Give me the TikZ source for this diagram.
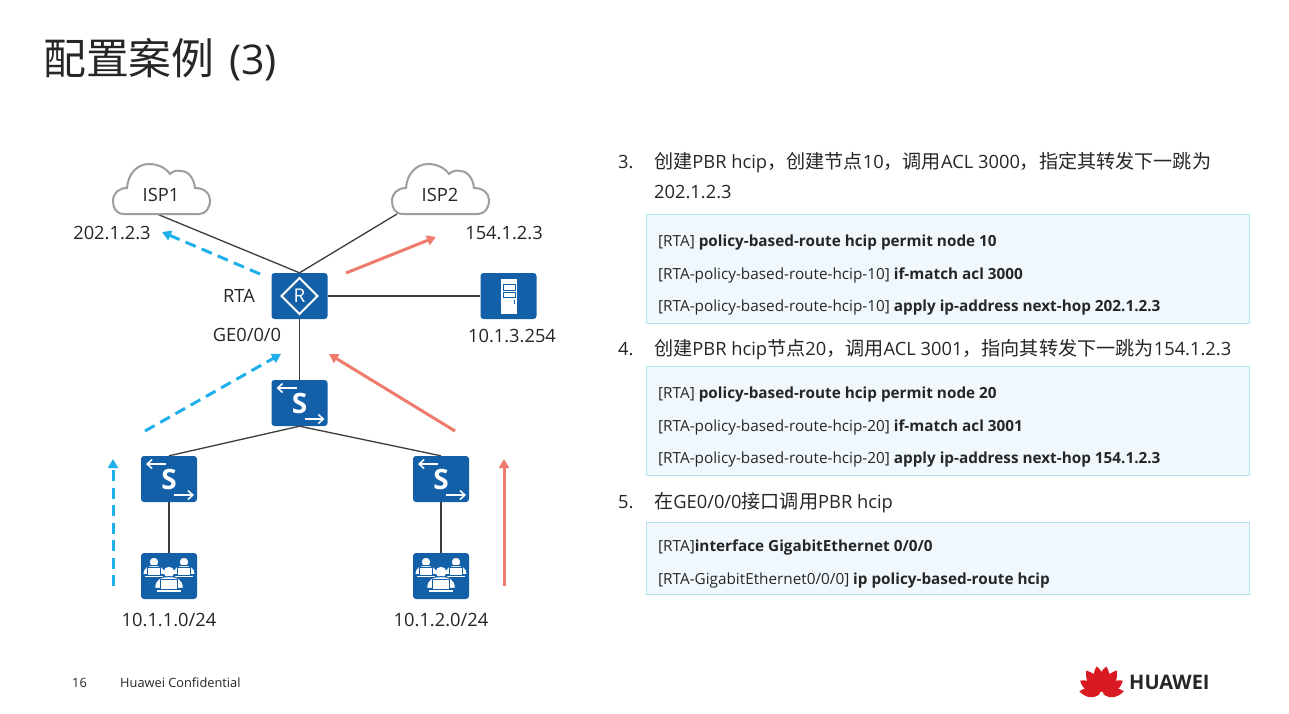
\documentclass[tikz,border=0pt]{standalone}
\usepackage{fontspec}
\setmainfont{Open Sans}
\newfontfamily\cjk[Scale=1.045]{Noto Sans CJK SC}
\usetikzlibrary{arrows.meta, positioning}
\newcommand{\zh}[1]{{\cjk #1}}
\definecolor{devblue}{HTML}{1460A8}
\definecolor{flowblue}{HTML}{1FB0EC}
\definecolor{flowred}{HTML}{EE7B6C}
\definecolor{codefill}{HTML}{F0F8FD}
\definecolor{codeline}{HTML}{B3E2F3}
\definecolor{textgrey}{HTML}{262626}
\definecolor{logored}{HTML}{DA1A22}
\tikzset{
  device/.style={draw=none, fill=devblue, rounded corners=3pt, minimum width=56pt, minimum height=46pt, inner sep=0pt},
  link/.style={draw=textgrey!90, line width=1.3pt},
  flowb/.style={draw=flowblue, line width=3pt, dash pattern=on 11pt off 6.5pt, -{Triangle[length=9pt,width=10pt]}},
  flowr/.style={draw=flowred, line width=3pt, -{Triangle[length=9pt,width=10pt]}},
  lab/.style={text=textgrey, font=\fontsize{18.3pt}{20pt}\selectfont, inner sep=0pt},
  item/.style={text=textgrey, font=\fontsize{18.3pt}{20pt}\selectfont, inner sep=0pt, anchor=base west},
  codeline/.style={text=textgrey, font=\fontsize{15.3pt}{18pt}\selectfont, inner sep=0pt, anchor=base west},
  codebox/.style={draw=codeline, fill=codefill, line width=1pt},
  foot/.style={text=textgrey, font=\fontsize{12.8pt}{15pt}\selectfont, inner sep=0pt, anchor=base west},
  wline/.style={draw=white, line width=1.5pt},
  barb/.style={wline, -{Straight Barb[length=5pt,width=9pt]}},
  cloudpic/.pic={
    \draw[draw=black!38, fill=white, line width=2pt] (-37,25) .. controls (-45,25) and (-48,19) .. (-48,12)
      .. controls (-48,4) and (-42,-1) .. (-34,-1) .. controls (-33,-15) and (-24,-25) .. (-12,-25)
      .. controls (-3,-25) and (5,-21) .. (9,-15) .. controls (12,-18) and (16,-19) .. (20,-18)
      .. controls (28,-18) and (33,-10) .. (34,-1) .. controls (43,-1) and (49,4) .. (49,11)
      .. controls (49,19) and (45,25) .. (38,25) -- cycle;
  },
  routerpic/.pic={
    \draw[wline, line width=2pt] (-18,0) -- (0,-18) -- (18,0) -- (0,18) -- cycle;
    \node[text=white, inner sep=0pt, font=\fontsize{19pt}{19pt}\selectfont] (-r) at (0,0) {R};
  },
  switchpic/.pic={
    \draw[barb] (-3,-15) -- (-23,-15);
    \draw[barb] (5,16) -- (25,16);
    \node[text=white, inner sep=0pt, font=\fontsize{28pt}{28pt}\bfseries\selectfont] (-s) at (0,0) {S};
  },
  serverpic/.pic={
    \fill[white] (-8,-17) rectangle (8,18);
    \draw[devblue, line width=1pt] (-5,-12) rectangle (7,-6);
    \draw[devblue, line width=1pt] (-5,-4) rectangle (7,1);
    \fill[devblue] (5,4) rectangle (6.5,8);
  },
  personpic/.pic={
    \draw[white, fill=white, line width=.3pt] (0,-4.5) circle (4);
    \draw[devblue, fill=white, line width=1pt] (-11,8) .. controls (-11,0) and (-6,-1) .. (0,-1)
      .. controls (6,-1) and (11,0) .. (11,8) -- cycle;
    \draw[devblue, fill=white, line width=1pt] (-6.5,1) rectangle (6.5,8.5);
    \draw[white, line width=1.2pt] (-9,10) -- (9,10);
  },
  petal/.pic={
    \fill[logored] (0,-2) .. controls (-8,-9) and (-7,-20) .. (0,-28) .. controls (7,-20) and (8,-9) .. (0,-2) -- cycle;
  }
}

\begin{document}
\begin{tikzpicture}[x=1pt, y=-1pt]
  \useasboundingbox (0,0) rectangle (1289,713);
  \fill[white] (0,0) rectangle (1289,713);

  \node[anchor=base west, inner sep=0pt, text=textgrey, font=\fontsize{41pt}{46pt}\selectfont] (title) at (43,74) {\zh{配置案例}\hspace{4pt} (3)};

  % devices
  \node[device] (rta) at (299.5,296) {};
  \node[device] (server) at (508.5,296) {};
  \node[device] (swtop) at (299.5,403) {};
  \node[device] (swa) at (169,479) {};
  \node[device] (swb) at (441,479) {};
  \node[device] (pca) at (169,576) {};
  \node[device] (pcb) at (441,576) {};
  \coordinate (isp1end) at (157,214);
  \coordinate (isp2end) at (397,214);

  \draw[link] (rta.north) -- (isp1end);
  \draw[link] (rta.north) -- (isp2end);
  \draw[link] (rta.east) -- (server.west);
  \draw[link] (rta.south) -- (swtop.north);
  \draw[link] (swtop.south) -- (swa.north);
  \draw[link] (swtop.south) -- (swb.north);
  \draw[link] (swa.south) -- (pca.north);
  \draw[link] (swb.south) -- (pcb.north);

  \pic at (161,189) {cloudpic};
  \pic at (440,189) {cloudpic};
  \node[lab] (isp1) at (161,195) {ISP1};
  \node[lab] (isp2) at (440,195) {ISP2};
  \pic (rtaicon) at (rta) {routerpic};
  \pic at (server) {serverpic};
  \pic (swtopicon) at (swtop) {switchpic};
  \pic (swaicon) at (swa) {switchpic};
  \pic (swbicon) at (swb) {switchpic};
  \pic at ([xshift=-15pt,yshift=9.5pt]pca) {personpic};
  \pic at ([xshift=15pt,yshift=9.5pt]pca) {personpic};
  \pic[scale=1.3] at ([yshift=-2pt]pca) {personpic};
  \pic at ([xshift=-15pt,yshift=9.5pt]pcb) {personpic};
  \pic at ([xshift=15pt,yshift=9.5pt]pcb) {personpic};
  \pic[scale=1.3] at ([yshift=-2pt]pcb) {personpic};

  \node[lab] (ip1) at (112,233) {202.1.2.3};
  \node[lab] (ip2) at (504,233) {154.1.2.3};
  \node[lab] (rtalab) at (239,296) {RTA};
  \node[lab] (gelab) at (247,335) {GE0/0/0};
  \node[lab] (serverlab) at (512,336) {10.1.3.254};
  \node[lab] (neta) at (169,620) {10.1.1.0/24};
  \node[lab] (netb) at (441,620) {10.1.2.0/24};

  % traffic
  \coordinate (ba1) at (113,586);
  \coordinate (ba2) at (113,459);
  \coordinate (bb1) at (145,431);
  \coordinate (bb2) at (281,354);
  \coordinate (bc1) at (260,274);
  \coordinate (bc2) at (162,232);
  \coordinate (ra1) at (504,586);
  \coordinate (ra2) at (504,459);
  \coordinate (rb1) at (455,431);
  \coordinate (rb2) at (329,354);
  \coordinate (rc1) at (346,273);
  \coordinate (rc2) at (436,237);
  \draw[flowb] (ba1) -- (ba2);
  \draw[flowb] (bb1) -- (bb2);
  \draw[flowb] (bc1) -- (bc2);
  \draw[flowr] (ra1) -- (ra2);
  \draw[flowr] (rb1) -- (rb2);
  \draw[flowr] (rc1) -- (rc2);

  % right column
  \node[item] (n3) at (618,168) {3.};
  \node[item] (t3a) at (654,168) {\zh{创建}PBR hcip\zh{，创建节点}10\zh{，调用}ACL 3000\zh{，指定其转发下一跳为}};
  \node[item] (t3b) at (654,198) {202.1.2.3};
  \draw[codebox] (646,214.5) rectangle (1249,323);
  \node[codeline] (c3a) at (658,246) {[RTA] \textbf{policy-based-route hcip permit node 10}};
  \node[codeline] (c3b) at (658,279) {[RTA-policy-based-route-hcip-10] \textbf{if-match acl 3000}};
  \node[codeline] (c3c) at (658,311) {[RTA-policy-based-route-hcip-10] \textbf{apply ip-address next-hop 202.1.2.3}};

  \node[item] (n4) at (618,355) {4.};
  \node[item] (t4) at (654,355) {\zh{创建}PBR hcip\zh{节点}20\zh{，调用}ACL 3001\zh{，指向其转发下一跳为}154.1.2.3};
  \draw[codebox] (646,366.5) rectangle (1249,475);
  \node[codeline] (c4a) at (658,398) {[RTA] \textbf{policy-based-route hcip permit node 20}};
  \node[codeline] (c4b) at (658,431) {[RTA-policy-based-route-hcip-20] \textbf{if-match acl 3001}};
  \node[codeline] (c4c) at (658,463) {[RTA-policy-based-route-hcip-20] \textbf{apply ip-address next-hop 154.1.2.3}};

  \node[item] (n5) at (618,508) {5.};
  \node[item] (t5) at (654,508) {\zh{在}GE0/0/0\zh{接口调用}PBR hcip};
  \draw[codebox] (646,522.5) rectangle (1249,594);
  \node[codeline] (c5a) at (658,551) {[RTA]\textbf{interface GigabitEthernet 0/0/0}};
  \node[codeline] (c5b) at (658,584) {[RTA-GigabitEthernet0/0/0] \textbf{ip policy-based-route hcip}};

  % footer
  \node[foot] (pageno) at (72,687) {16};
  \node[foot] (conf) at (120,687) {Huawei Confidential};
  \pic[rotate=-10] at (1101.5,694) {petal};
  \pic[rotate=10] at (1101.5,694) {petal};
  \pic[rotate=-33] at (1101.5,694) {petal};
  \pic[rotate=33] at (1101.5,694) {petal};
  \pic[rotate=-58,scale=.9] at (1101.5,694) {petal};
  \pic[rotate=58,scale=.9] at (1101.5,694) {petal};
  \pic[rotate=-83,scale=.8] at (1101.5,694) {petal};
  \pic[rotate=83,scale=.8] at (1101.5,694) {petal};
  \node[anchor=base west, inner sep=0pt, text=textgrey, font=\fontsize{20pt}{22pt}\bfseries\selectfont] (logo) at (1129,689) {HUAWEI};
\end{tikzpicture}
\end{document}
